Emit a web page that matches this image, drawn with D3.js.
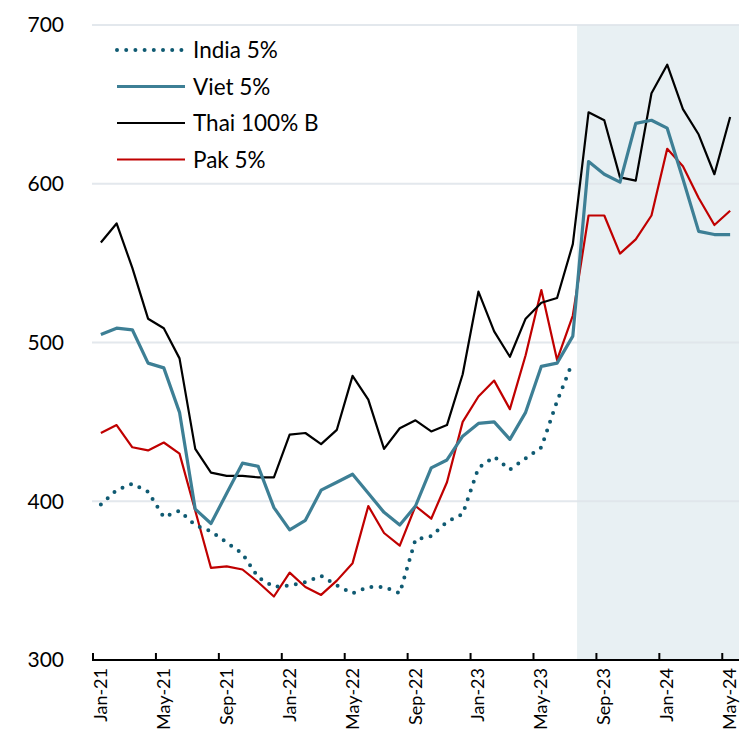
<!DOCTYPE html>
<html><head><meta charset="utf-8">
<script src="https://cdn.jsdelivr.net/npm/d3@7"></script>
<style>body{margin:0;background:#fff}svg{display:block}</style>
</head><body>
<svg id="c" width="753" height="731"></svg>
<script>
const months = ["Jan-21","Feb-21","Mar-21","Apr-21","May-21","Jun-21","Jul-21","Aug-21","Sep-21","Oct-21","Nov-21","Dec-21",
"Jan-22","Feb-22","Mar-22","Apr-22","May-22","Jun-22","Jul-22","Aug-22","Sep-22","Oct-22","Nov-22","Dec-22",
"Jan-23","Feb-23","Mar-23","Apr-23","May-23","Jun-23","Jul-23","Aug-23","Sep-23","Oct-23","Nov-23","Dec-23",
"Jan-24","Feb-24","Mar-24","Apr-24","May-24"];
const tickLabels = ["Jan-21","May-21","Sep-21","Jan-22","May-22","Sep-22","Jan-23","May-23","Sep-23","Jan-24","May-24"];
const yTicks = [300,400,500,600,700];
const india = [398,407,411,406,390,394,385,381,374,367,352,346,347,349,353,347,342,346,346,342,376,378,387,392,421,428,420,427,434,463,488];
const viet  = [505,509,508,487,484,456,395,386,405,424,422,396,382,388,407,412,417,405,393,385,397,421,426,441,449,450,439,456,485,487,504,614,606,601,638,640,635,603,570,568,568];
const thai  = [563,575,547,515,509,490,433,418,416,416,415,415,442,443,436,445,479,464,433,446,451,444,448,480,532,507,491,515,525,528,562,645,640,604,602,657,675,647,631,606,642];
const pak   = [443,448,434,432,437,430,394,358,359,357,349,340,355,346,341,350,361,397,380,372,397,389,412,450,466,476,458,492,533,489,517,580,580,556,565,580,622,611,591,574,583];
const seriesNames = ["India 5%","Viet 5%","Thai 100% B","Pak 5%"];
const shadeFrom = "Aug-23";

const svg = d3.select("#c");
const x = d3.scaleBand().domain(months).range([93, 738]).padding(0);
const y = d3.scaleLinear().domain([300,700]).range([660,25]);
const cx = m => x(m) + x.bandwidth()/2;
const font = "Lato, 'Open Sans', sans-serif";

// shaded region
svg.append("rect")
  .attr("x", x(shadeFrom) - x.bandwidth()*0.23)
  .attr("y", y(700))
  .attr("width", 739 - (x(shadeFrom) - x.bandwidth()*0.23))
  .attr("height", y(300) - y(700))
  .attr("fill", "#e8f0f3");

// gridlines
svg.append("g").selectAll("line").data(yTicks.filter(t=>t>300)).join("line")
  .attr("x1", 92).attr("x2", 739)
  .attr("y1", d=>y(d)).attr("y2", d=>y(d))
  .attr("stroke", "#dfe5ea").attr("stroke-width", 2).attr("opacity", 0.85);

// y labels
svg.append("g").selectAll("text").data(yTicks).join("text")
  .attr("x", 64).attr("y", d=>y(d)).attr("dy", "0.35em")
  .attr("text-anchor", "end").attr("font-family", font).attr("font-size", 21)
  .attr("fill", "#000").text(d=>d);

const line = d3.line().x((d,i)=>cx(months[i])).y(d=>y(d));

svg.append("path").datum(pak).attr("d", line).attr("fill","none")
  .attr("stroke","#c00000").attr("stroke-width",2.2).attr("stroke-linejoin","round");
svg.append("path").datum(thai).attr("d", line).attr("fill","none")
  .attr("stroke","#000").attr("stroke-width",2.2).attr("stroke-linejoin","round");
svg.append("path").datum(viet).attr("d", line).attr("fill","none")
  .attr("stroke","#3d7f95").attr("stroke-width",3.2).attr("stroke-linejoin","round");
svg.append("path").datum(india).attr("d", line).attr("fill","none")
  .attr("stroke","#0f5a72").attr("stroke-width",4).attr("stroke-linecap","round")
  .attr("stroke-dasharray","0 9.2");

// x axis
const ax = svg.append("g");
ax.append("line").attr("x1", 92).attr("x2", 739).attr("y1", 660).attr("y2", 660)
  .attr("stroke","#000").attr("stroke-width",2);
ax.selectAll("line.t").data(tickLabels).join("line").attr("class","t")
  .attr("x1", d=>x(d)).attr("x2", d=>x(d)).attr("y1", 653).attr("y2", 660)
  .attr("stroke","#000").attr("stroke-width",2);
ax.selectAll("text").data(tickLabels).join("text")
  .attr("transform", d=>`translate(${cx(d)+6},668) rotate(-90)`)
  .attr("text-anchor","end").attr("font-family", font).attr("font-size", 18)
  .attr("fill","#000").text(d=>d);

// legend
const leg = svg.append("g");
const styles = [
  {stroke:"#0f5a72", w:4, dash:"0 9.2", cap:"round"},
  {stroke:"#3d7f95", w:3.2, dash:null, cap:"butt"},
  {stroke:"#000", w:2.2, dash:null, cap:"butt"},
  {stroke:"#c00000", w:2.2, dash:null, cap:"butt"}
];
seriesNames.forEach((n,i)=>{
  const ly = 50 + i*36.5;
  const l = leg.append("line").attr("x1", 117).attr("x2", 185).attr("y1", ly).attr("y2", ly)
    .attr("stroke", styles[i].stroke).attr("stroke-width", styles[i].w).attr("stroke-linecap", styles[i].cap);
  if (styles[i].dash) l.attr("stroke-dasharray", styles[i].dash);
  leg.append("text").attr("x", 193).attr("y", ly).attr("dy","0.36em")
    .attr("font-family", font).attr("font-size", 22.5).attr("fill","#000").text(n);
});
</script>
</body></html>
